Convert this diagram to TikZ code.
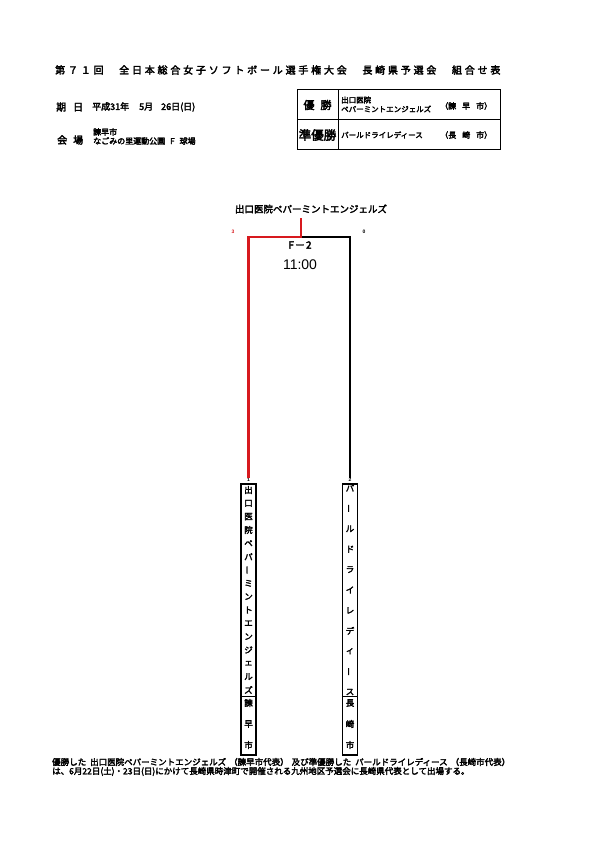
\documentclass[tikz,border=0pt]{standalone}
\usepackage{fontspec}
\setmainfont{Liberation Sans}
\newfontfamily\jpb[FakeBold=3]{Noto Sans CJK JP}
\definecolor{bred}{RGB}{215,25,30}
\begin{document}
\begin{tikzpicture}[x=1pt,y=-1pt,
  txt/.style={inner sep=0pt, font=\jpb\fontsize{#1}{#1}\selectfont},
  txt/.default=8,
  vch/.style={inner sep=0pt, font=\jpb\fontsize{8.5}{8.5}\selectfont},
  tiny/.style={inner sep=0pt, font=\bfseries\fontsize{5}{5}\selectfont},
  entrybox/.style={draw, line width=1.5pt, minimum width=15pt, minimum height=271pt, inner sep=0pt},
  wline/.style={line width=2.6pt, bred},
  lline/.style={line width=2.6pt, black},
  tbl/.style={line width=1pt}]
\useasboundingbox (0,0) rectangle (595,842);
% title
\node[txt=10, anchor=west] (title) at (55,70)
  {\addfontfeatures{LetterSpace=28}第７１回　全日本総合女子ソフトボール選手権大会　長崎県予選会　組合せ表};
% date / venue
\node[txt=10, anchor=west] (kijitsu) at (56,107) {期\hspace{7pt}日};
\node[txt=9, anchor=west] (date) at (92,107) {平成31年\hspace{10pt}5月\hspace{8pt}26日(日)};
\node[txt=10, anchor=west] (kaijo) at (57,140) {会\hspace{6pt}場};
\node[txt=8, anchor=west] (city) at (93,132) {諫早市};
\node[txt=8, anchor=west] (park) at (93,141) {なごみの里運動公園\hspace{5pt}F\hspace{5pt}球場};
% result table
\draw[tbl] (297,90) rectangle (500,150);
\draw[tbl] (297,120) -- (500,120);
\draw[tbl] (338,90) -- (338,150);
\node[txt=11] (yusho) at (317.5,105) {優\hspace{6pt}勝};
\node[txt=12.5] (junyusho) at (317.5,135) {準優勝};
\node[txt=7.5, anchor=west] (w1) at (341,100) {出口医院};
\node[txt=7.5, anchor=west] (w2) at (341,109) {ペパーミントエンジェルズ};
\node[txt=8, anchor=west] (wc) at (440,106) {（諫\hspace{6pt}早\hspace{6pt}市）};
\node[txt=7.5, anchor=west] (r1) at (341,135) {パールドライレディース};
\node[txt=8, anchor=west] (rc) at (440,135) {（長\hspace{6pt}崎\hspace{6pt}市）};
% bracket
\node[txt=9.5] (winner) at (311,209) {出口医院ペパーミントエンジェルズ};
\coordinate (wtop) at (301,218);
\coordinate (mid) at (301,237);
\node[tiny, text=bred] (s1) at (233,232) {3};
\node[tiny] (s2) at (364,232) {0};
\node[txt=10] (court) at (300,245) {\addfontfeatures{LetterSpace=10}F－2};
\node[inner sep=0pt, font=\fontsize{14}{14}\selectfont] (time) at (300,265) {11:00};
\node[tiny] (n1) at (248.5,479.5) {1};
\node[tiny] (n2) at (350,479.5) {2};
\draw[lline] (n2.north) |- (mid);
\draw[wline] (n1.north) |- (mid) -- (wtop);
% entry boxes
\node[entrybox, anchor=north] (box1) at (248.5,483) {};
\node[entrybox, anchor=north] (box2) at (350,483) {};
\draw[line width=0.8pt] (box1.west |- 0,696) -- (box1.east |- 0,696);
\draw[line width=0.8pt] (box2.west |- 0,696) -- (box2.east |- 0,696);
\foreach \c [count=\i from 0] in {出,口,医,院,ペ,パ,|,ミ,ン,ト,エ,ン,ジ,ェ,ル,ズ}{
  \node[vch] (a\i) at (248.5,{490+\i*13.33}) {\if|\c\rotatebox{90}{ー}\else\c\fi};
}
\foreach \c [count=\i from 0] in {諫,早,市}{
  \node[vch] (ac\i) at (248.5,{703+\i*21}) {\c};
}
\foreach \c [count=\i from 0] in {パ,|,ル,ド,ラ,イ,レ,デ,ィ,|,ス}{
  \node[vch] (b\i) at (350,{488+\i*20.4}) {\if|\c\rotatebox{90}{ー}\else\c\fi};
}
\foreach \c [count=\i from 0] in {長,崎,市}{
  \node[vch] (bc\i) at (350,{703+\i*21}) {\c};
}
% footer
\node[txt=8.5, anchor=west] (foot1) at (52,762)
  {優勝した\hspace{4pt}出口医院ペパーミントエンジェルズ\hspace{3pt}（諫早市代表）\hspace{3pt}及び準優勝した\hspace{4pt}パールドライレディース\hspace{3pt}（長崎市代表）};
\node[txt=8.5, anchor=west] (foot2) at (52,771.5)
  {は、6月22日(土)・23日(日)にかけて長崎県時津町で開催される九州地区予選会に長崎県代表として出場する。};
\end{tikzpicture}
\end{document}
